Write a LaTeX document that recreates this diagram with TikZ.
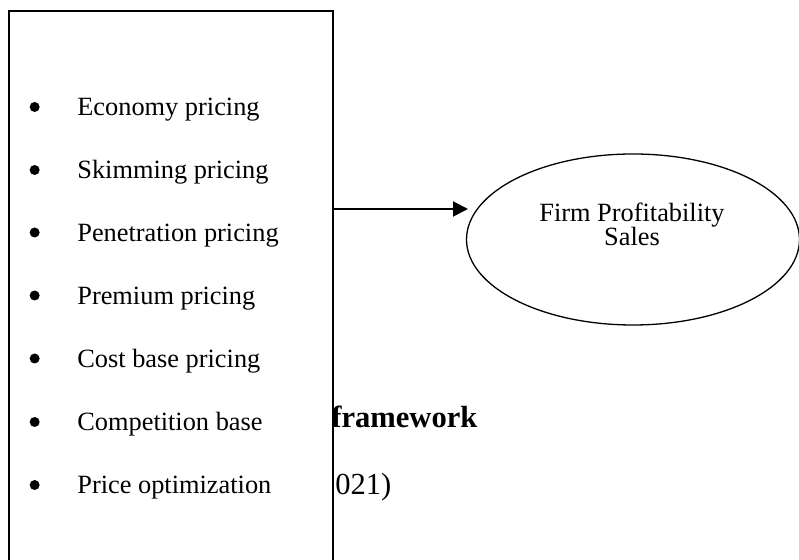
\documentclass[tikz,border=0pt]{standalone}
\usepackage{fontspec}
\setmainfont{Liberation Serif}
\usetikzlibrary{shapes,arrows.meta,positioning}

\begin{document}
\begin{tikzpicture}[
    listbox/.style={rectangle, draw, line width=0.04cm, fill=white, minimum width=6.48cm, minimum height=11.4cm, inner sep=0pt},
    item/.style={inner sep=0pt, anchor=base west, font=\fontsize{15}{18}\selectfont},
    dot/.style={circle, fill=black, minimum size=0.2cm, inner sep=0pt},
    result/.style={ellipse, draw, line width=0.026cm, minimum width=6.66cm, minimum height=3.42cm, inner sep=0pt},
    label/.style={inner sep=0pt, anchor=base, font=\fontsize{15}{18}\selectfont},
    caption/.style={inner sep=0pt, anchor=base west, font=\fontsize{17.4}{20}\selectfont},
    arrow/.style={-{Triangle[length=0.3cm, width=0.3cm]}, line width=0.04cm}
]
\useasboundingbox (0,0) rectangle (15.98,11.2);

% Caption lines partly hidden behind the box
\node[caption, font=\fontsize{17.4}{20}\selectfont\bfseries] (capa) at (6.62,2.64) {framework};
\node[caption] (capb) at (6.7,1.30) {021)};

% Strategies box (runs past the bottom edge)
\node[listbox] (box) at (3.42,5.28) {};

% Items
\node[item] (i1) at (1.54,8.88) {Economy pricing};
\node[item, below=1.26cm of i1.base west, anchor=base west] (i2) {Skimming pricing};
\node[item, below=1.25cm of i2.base west, anchor=base west] (i3) {Penetration pricing};
\node[item, below=1.26cm of i3.base west, anchor=base west] (i4) {Premium pricing};
\node[item, below=1.26cm of i4.base west, anchor=base west] (i5) {Cost base pricing};
\node[item, below=1.27cm of i5.base west, anchor=base west] (i6) {Competition base};
\node[item, below=1.26cm of i6.base west, anchor=base west] (i7) {Price optimization};

% Bullets
\node[dot, left=0.74cm of i1.base west, yshift=0.18cm] (d1) {};
\node[dot, left=0.74cm of i2.base west, yshift=0.18cm] (d2) {};
\node[dot, left=0.74cm of i3.base west, yshift=0.18cm] (d3) {};
\node[dot, left=0.74cm of i4.base west, yshift=0.18cm] (d4) {};
\node[dot, left=0.74cm of i5.base west, yshift=0.18cm] (d5) {};
\node[dot, left=0.74cm of i6.base west, yshift=0.18cm] (d6) {};
\node[dot, left=0.74cm of i7.base west, yshift=0.18cm] (d7) {};

% Outcome
\node[result] (firm) at (12.66,6.41) {};
\node[label] (profit) at (12.64,6.76) {Firm Profitability};
\node[label] (sales) at (12.64,6.28) {Sales};

% Arrow
\coordinate (tip) at (9.36,7.02);
\draw[arrow] (tip -| box.east) -- (tip);

\end{tikzpicture}
\end{document}
